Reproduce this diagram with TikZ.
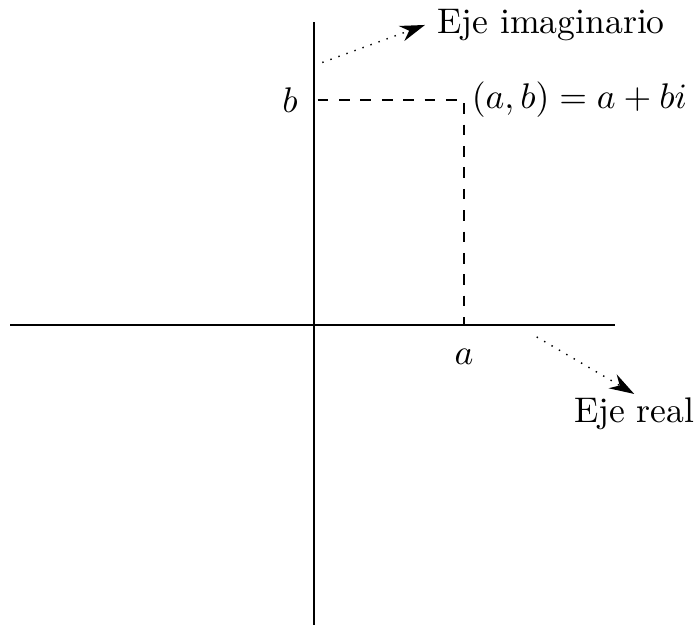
\documentclass[tikz,border=0pt]{standalone}
\usetikzlibrary{arrows.meta}

\begin{document}
\begin{tikzpicture}[x=0.74cm, y=0.74cm, >={Stealth[length=7pt,width=4.5pt]}]
  \useasboundingbox (-4.187,-4.013) rectangle (5.067,4.333);
  \draw (-4.05,0) -- (4.01,0);
  \draw (0,-4) -- (0,4.04);
  \coordinate (P) at (2,3);
  \draw[dashed] (0.05,3) -- (P) -- (2,0);
  \node at (P) [right,inner sep=2pt] (pt) {$(a,b)=a+bi$};
  \node at (-0.32,3) (b) {$b$};
  \node at (2,-0.43) (a) {$a$};
  \node at (1.48,4.0) [right] (imag) {Eje imaginario};
  \node at (4.27,-0.92) [below,inner sep=1pt] (real) {Eje real};
  \coordinate (imagstart) at (0.11,3.5);
  \coordinate (realstart) at (2.97,-0.16);
  \draw[dotted,->] (imagstart) -- (imag.west);
  \draw[dotted,->] (realstart) -- (real.north);
\end{tikzpicture}
\end{document}
